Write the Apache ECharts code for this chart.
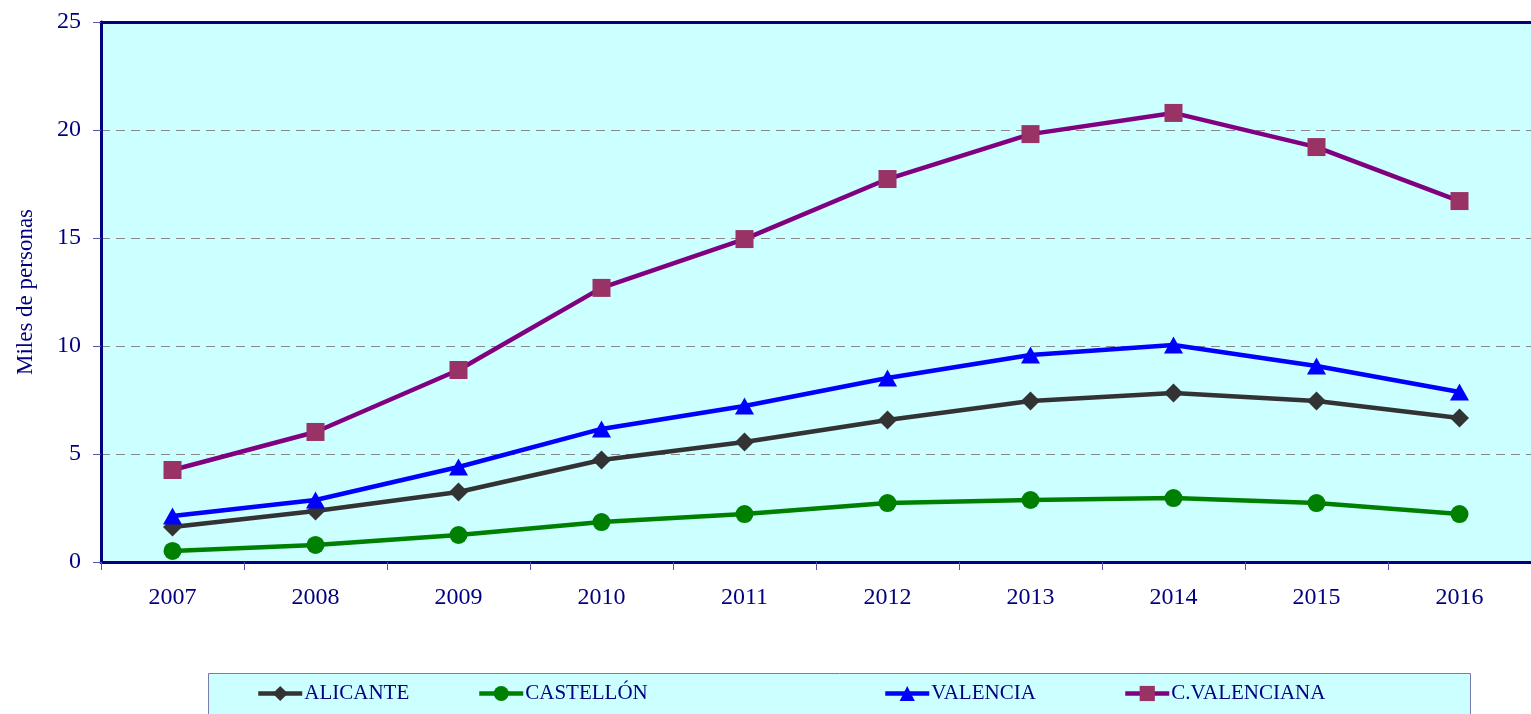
<!DOCTYPE html>
<html>
<head>
<meta charset="utf-8">
<script src="https://cdn.jsdelivr.net/npm/echarts@6/dist/echarts.min.js"></script>
<style>
html, body { margin: 0; padding: 0; background: #fff; }
#main { width: 1531px; height: 714px; }
</style>
</head>
<body>
<div id="main"></div>
<script>
var years = ["2007", "2008", "2009", "2010", "2011", "2012", "2013", "2014", "2015", "2016"];
var alicante = [1.62, 2.36, 3.24, 4.72, 5.56, 6.57, 7.45, 7.82, 7.45, 6.67];
var castellon = [0.51, 0.79, 1.25, 1.85, 2.22, 2.73, 2.87, 2.96, 2.73, 2.22];
var valencia = [2.13, 2.87, 4.40, 6.16, 7.22, 8.52, 9.58, 10.05, 9.07, 7.87];
var cValenciana = [4.26, 6.02, 8.89, 12.69, 14.95, 17.73, 19.81, 20.79, 19.21, 16.71];

var myChart = echarts.init(document.getElementById("main"));

var navy = "#000080";
var font = "'Liberation Serif', 'Times New Roman', serif";

function legendAt(name, left) {
  return {
    data: [name],
    left: left,
    top: 683,
    padding: 0,
    itemWidth: 44,
    itemHeight: 19,
    itemGap: 2,
    lineStyle: { width: 4.5 },
    textStyle: { color: navy, fontFamily: font, fontSize: 21, padding: [2, 0, 0, -3] }
  };
}

var option = {
  animation: false,
  textStyle: { fontFamily: font },
  graphic: [{
    type: "rect",
    shape: { x: 208.5, y: 673.5, width: 1262, height: 50 },
    style: { fill: "#ccffff", stroke: "#7a7ab0", lineWidth: 1 },
    z: -1
  }],
  legend: [
    legendAt("ALICANTE", 256),
    legendAt("CASTELLÓN", 477),
    legendAt("VALENCIA", 883),
    legendAt("C.VALENCIANA", 1123)
  ],
  grid: {
    left: 101,
    top: 22,
    right: 0,
    bottom: 152,
    show: true,
    backgroundColor: "#ccffff",
    borderWidth: 0
  },
  xAxis: [
    {
      type: "category",
      data: years,
      boundaryGap: true,
      axisLine: { lineStyle: { color: navy, width: 3 } },
      axisTick: { show: true, length: 8, lineStyle: { color: "#5555aa", width: 1 } },
      axisLabel: { color: navy, fontSize: 24, margin: 24, fontFamily: font }
    },
    {
      type: "category",
      data: years,
      position: "top",
      axisLine: { lineStyle: { color: navy, width: 3 } },
      axisTick: { show: false },
      axisLabel: { show: false }
    }
  ],
  yAxis: {
    type: "value",
    min: 0,
    max: 25,
    interval: 5,
    name: "Miles de personas",
    nameLocation: "middle",
    nameRotate: 90,
    nameGap: 64,
    nameTextStyle: { color: navy, fontSize: 23, fontFamily: font },
    axisLine: { show: true, lineStyle: { color: navy, width: 3 } },
    axisTick: { show: true, length: 8, lineStyle: { color: "#5555aa", width: 1 } },
    axisLabel: { color: navy, fontSize: 24, margin: 20, fontFamily: font },
    splitLine: { show: true, lineStyle: { color: "#888888", width: 1, type: [9, 6] } }
  },
  series: [
    {
      name: "ALICANTE", type: "line", data: alicante,
      symbol: "diamond", symbolSize: [19, 19],
      lineStyle: { color: "#333333", width: 4.5 },
      itemStyle: { color: "#333333" }
    },
    {
      name: "CASTELLÓN", type: "line", data: castellon,
      symbol: "circle", symbolSize: 18,
      lineStyle: { color: "#008000", width: 4.5 },
      itemStyle: { color: "#008000" }
    },
    {
      name: "VALENCIA", type: "line", data: valencia,
      symbol: "triangle", symbolSize: [19, 17],
      lineStyle: { color: "#0000ff", width: 4.5 },
      itemStyle: { color: "#0000ff" }
    },
    {
      name: "C.VALENCIANA", type: "line", data: cValenciana,
      symbol: "rect", symbolSize: 18,
      lineStyle: { color: "#800080", width: 4.5 },
      itemStyle: { color: "#993366" }
    }
  ]
};

myChart.setOption(option);
</script>
</body>
</html>
